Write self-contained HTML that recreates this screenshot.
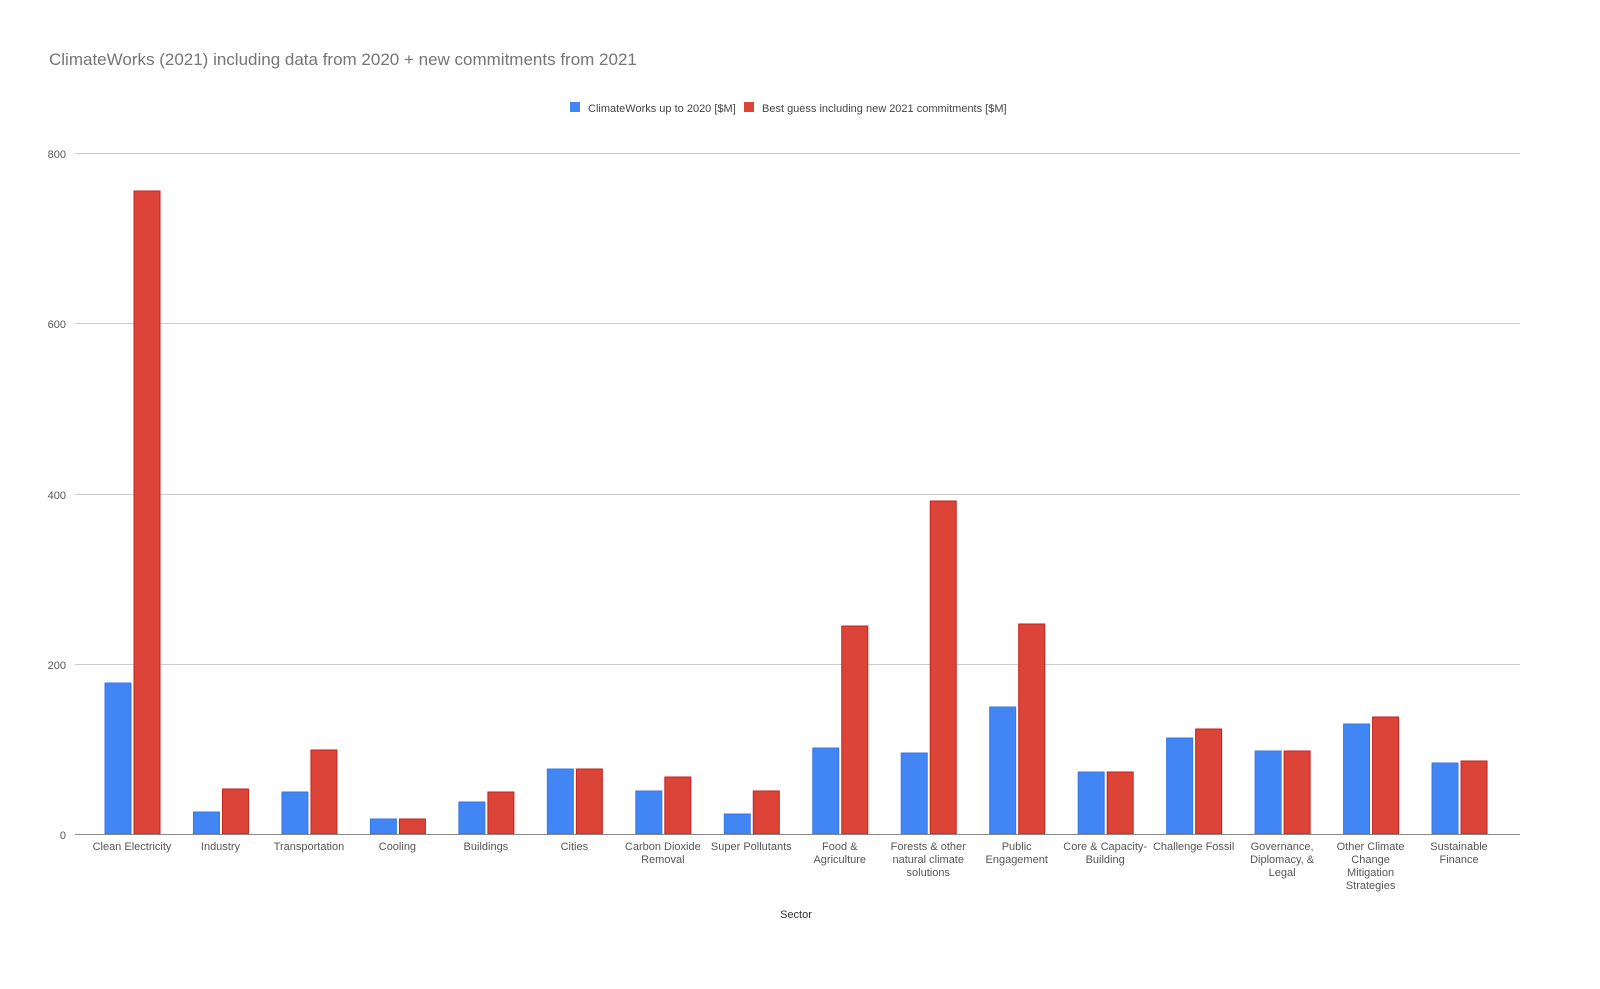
<!DOCTYPE html>
<html><head><meta charset="utf-8"><style>
body{margin:0;background:#fff;}
svg{display:block;font-family:"Liberation Sans",Roboto,sans-serif;}
</style></head><body>
<svg width="1600" height="989" viewBox="0 0 1600 989" xmlns="http://www.w3.org/2000/svg">
<rect width="1600" height="989" fill="#fff"/>
<text x="49" y="65" font-size="17" fill="#757575">ClimateWorks (2021) including data from 2020 + new commitments from 2021</text>
<rect x="570" y="102" width="10" height="10" fill="#4285f4"/>
<text x="588" y="112" font-size="11" fill="#444">ClimateWorks up to 2020 [$M]</text>
<rect x="744" y="102" width="10" height="10" fill="#db4437"/>
<text x="762" y="112" font-size="11" fill="#444">Best guess including new 2021 commitments [$M]</text>
<g stroke="#ccc" stroke-width="1">
<line x1="75" x2="1520" y1="153.5" y2="153.5"/>
<line x1="75" x2="1520" y1="323.5" y2="323.5"/>
<line x1="75" x2="1520" y1="494.5" y2="494.5"/>
<line x1="75" x2="1520" y1="664.5" y2="664.5"/>
</g>
<g font-size="11" fill="#555" text-anchor="end">
<text x="66" y="158">800</text><text x="66" y="328">600</text><text x="66" y="499">400</text><text x="66" y="669">200</text><text x="66" y="839">0</text>
</g>
<g id="bars"></g>
<line x1="75" x2="1520" y1="834.5" y2="834.5" stroke="#888" stroke-width="1"/>
<g font-size="11" fill="#555" text-anchor="middle" id="labels"></g>
<text x="796" y="918" font-size="11" fill="#333" text-anchor="middle">Sector</text>
<script>
var d=[["Clean Electricity",683,191],["Industry",812,789],["Transportation",792,750],["Cooling",819,819],["Buildings",802,792],["Cities",769,769],["Carbon Dioxide|Removal",791,777],["Super Pollutants",814,791],["Food &|Agriculture",748,626],["Forests & other|natural climate|solutions",753,501],["Public|Engagement",707,624],["Core & Capacity-|Building",772,772],["Challenge Fossil",738,729],["Governance,|Diplomacy, &|Legal",751,751],["Other Climate|Change|Mitigation|Strategies",724,717],["Sustainable|Finance",763,761]];
var ns="http://www.w3.org/2000/svg",b=document.getElementById("bars"),l=document.getElementById("labels");
d.forEach(function(r,i){var c=132+i*88.47;
function rect(x,y,f,s){var e=document.createElementNS(ns,"rect");e.setAttribute("x",x);e.setAttribute("y",y);e.setAttribute("width",26);e.setAttribute("height",834-y);e.setAttribute("fill",f);if(s){e.setAttribute("stroke",s);e.setAttribute("stroke-width",1);}b.appendChild(e);}
rect(c-27,r[1],"#4285f4","#3a78e0");rect(c+2,r[2],"#db4437","#c5221f");
r[0].split("|").forEach(function(t,j){var e=document.createElementNS(ns,"text");e.setAttribute("x",c);e.setAttribute("y",850+j*13);e.textContent=t;l.appendChild(e);});
});
</script>
</svg>
</body></html>
